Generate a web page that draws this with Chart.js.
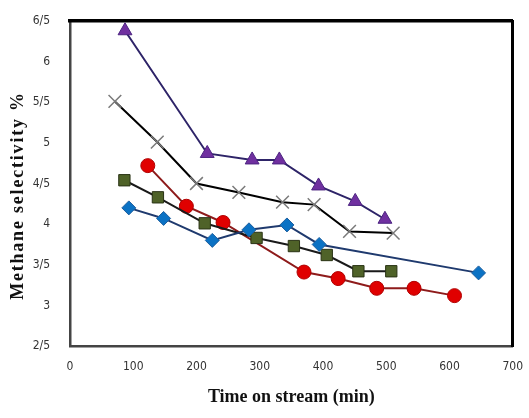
<!DOCTYPE html>
<html>
<head>
<meta charset="utf-8">
<script src="https://cdn.jsdelivr.net/npm/chart.js@4/dist/chart.umd.min.js"></script>
<style>
  html, body { margin: 0; padding: 0; background: #fff; }
  #wrap { width: 529px; height: 418px; }
</style>
</head>
<body>
<div id="wrap"><canvas id="chart" width="529" height="418"></canvas></div>
<script>
// values (time in min, methane selectivity %)
const triTime = [87, 217, 288, 331, 393, 451, 498];
const triVal  = [6.38, 4.87, 4.79, 4.79, 4.47, 4.28, 4.06];

const crossTime = [71, 138, 200, 267, 336, 386, 442, 511];
const crossVal  = [5.51, 5.01, 4.50, 4.39, 4.27, 4.24, 3.91, 3.89];

const circleTime = [123, 184, 242, 370, 424, 485, 544, 608];
const circleVal  = [4.72, 4.22, 4.02, 3.41, 3.33, 3.21, 3.21, 3.12];

const squareTime = [86, 139, 213, 295, 354, 406, 456, 508];
const squareVal  = [4.54, 4.33, 4.01, 3.83, 3.73, 3.62, 3.42, 3.42];

const diamondTime = [93, 148, 225, 283, 343, 394, 646];
const diamondVal  = [4.20, 4.07, 3.80, 3.93, 3.99, 3.75, 3.40];

const xTicks = [0, 100, 200, 300, 400, 500, 600, 700];
const yTicks = [2.5, 3, 3.5, 4, 4.5, 5, 5.5, 6, 6.5];

function pts(xs, ys) {
  return xs.map((x, i) => ({ x: x, y: ys[i] }));
}

const datasets = [
  {
    label: 'diamond',
    data: pts(diamondTime, diamondVal),
    borderColor: '#1F3A6E',
    borderWidth: 2,
    pointStyle: 'rectRot',
    pointRadius: 7,
    pointBackgroundColor: '#0B72C4',
    pointBorderColor: '#1D5E9E',
    pointBorderWidth: 1
  },
  {
    label: 'square',
    data: pts(squareTime, squareVal),
    borderColor: '#1a1a1a',
    borderWidth: 2,
    pointStyle: 'rect',
    pointRadius: 8,
    pointBackgroundColor: '#4F6228',
    pointBorderColor: '#2a3315',
    pointBorderWidth: 1
  },
  {
    label: 'circle',
    data: pts(circleTime, circleVal),
    borderColor: '#8E1B1B',
    borderWidth: 2,
    pointStyle: 'circle',
    pointRadius: 7,
    pointBackgroundColor: '#E00000',
    pointBorderColor: '#B00000',
    pointBorderWidth: 1
  },
  {
    label: 'cross',
    data: pts(crossTime, crossVal),
    borderColor: '#000',
    borderWidth: 2,
    pointStyle: 'crossRot',
    pointRadius: 9,
    pointBorderColor: '#7a7a7a',
    pointBorderWidth: 1.5
  },
  {
    label: 'triangle',
    data: pts(triTime, triVal),
    borderColor: '#2E2468',
    borderWidth: 2,
    pointStyle: 'triangle',
    pointRadius: 8,
    pointBackgroundColor: '#7030A0',
    pointBorderColor: '#4B2380',
    pointBorderWidth: 1
  }
];

const tickFont = { family: '"Liberation Sans Narrow", "DejaVu Sans Condensed", "Liberation Sans", sans-serif', size: 12 };
const titleFont = { family: '"Liberation Serif", "DejaVu Serif", serif', size: 18, weight: 'bold' };

// the y title in the picture is spaced out wider and sits a bit low
const spacedTitle = {
  id: 'spacedTitle',
  beforeDraw(chart) {
    const y = chart.scales.y;
    if (!y || y._spaced) return;
    const orig = y.drawTitle.bind(y);
    y.drawTitle = function () {
      chart.ctx.save();
      chart.ctx.letterSpacing = '1.8px';
      chart.ctx.translate(0, 12);
      orig();
      chart.ctx.restore();
    };
    y._spaced = true;
  }
};

new Chart(document.getElementById('chart'), {
  type: 'line',
  data: { datasets: datasets },
  plugins: [spacedTitle],
  options: {
    responsive: false,
    animation: false,
    layout: { padding: { left: 4, right: 15, top: 21, bottom: 6 } },
    plugins: { legend: { display: false }, tooltip: { enabled: false } },
    scales: {
      x: {
        type: 'linear',
        position: 'bottom',
        min: 0, max: 700,
        afterBuildTicks: s => { s.ticks = xTicks.map(v => ({ value: v })); },
        grid: { display: false },
        border: { color: '#444', width: 2.5 },
        ticks: { color: '#333', font: tickFont, padding: 6, maxRotation: 0 },
        title: { display: true, text: 'Time on stream (min)', color: '#111', font: titleFont, padding: { top: 10 } },
        afterFit: s => { s.height = 66; }
      },
      y: {
        type: 'linear',
        position: 'left',
        min: 2.5, max: 6.5,
        afterBuildTicks: s => { s.ticks = yTicks.map(v => ({ value: v })); },
        grid: { display: false },
        border: { color: '#444', width: 2.5 },
        ticks: {
          color: '#333', font: tickFont, padding: 12,
          callback: v => String(v).replace('.', '/')
        },
        title: { display: true, text: 'Methane selectivity %', color: '#111', font: titleFont, padding: { bottom: 0 } },
        afterFit: s => { s.width = 66; }
      },
      xTop: {
        type: 'linear',
        position: 'top',
        min: 0, max: 700,
        grid: { display: false },
        border: { color: '#000', width: 3.5 },
        ticks: { display: false },
        afterFit: s => { s.height = 0; }
      },
      yRight: {
        type: 'linear',
        position: 'right',
        min: 2.5, max: 6.5,
        grid: { display: false },
        border: { color: '#000', width: 3 },
        ticks: { display: false },
        afterFit: s => { s.width = 0; }
      }
    }
  }
});
</script>
</body>
</html>
